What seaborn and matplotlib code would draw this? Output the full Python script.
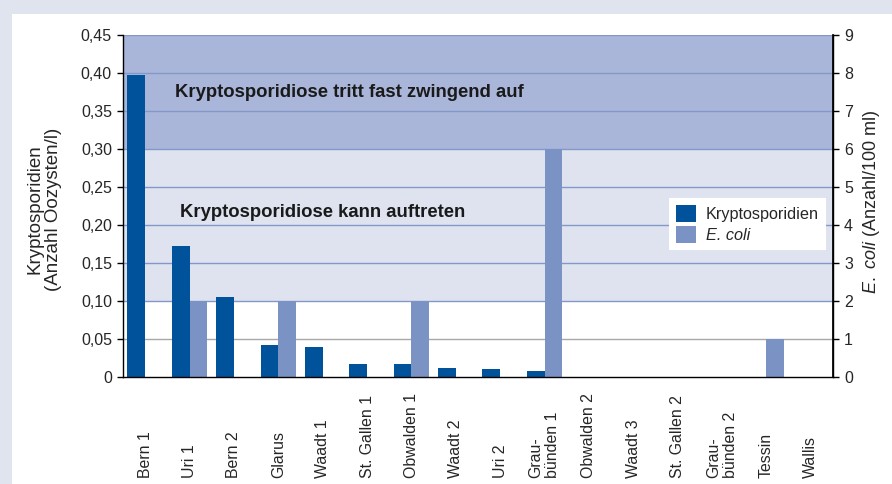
import pandas as pd
import numpy as np
import matplotlib
matplotlib.use("Agg")
import matplotlib.pyplot as plt
import matplotlib.transforms as mtransforms
from matplotlib.patches import Rectangle
import seaborn as sns

# ---------------------------------------------------------------
# Data
# ---------------------------------------------------------------
sites = ["Bern 1", "Uri 1", "Bern 2", "Glarus", "Waadt 1", "St. Gallen 1",
         "Obwalden 1", "Waadt 2", "Uri 2", "Grau-\nbünden 1", "Obwalden 2",
         "Waadt 3", "St. Gallen 2", "Grau-\nbünden 2", "Tessin", "Wallis"]
krypto = [0.397, 0.173, 0.105, 0.042, 0.039, 0.017, 0.017, 0.012, 0.010,
          0.008, 0, 0, 0, 0, 0, 0]
ecoli = [0, 2, 0, 2, 0, 0, 2, 0, 0, 6, 0, 0, 0, 0, 1, 0]

left_max, right_max = 0.45, 9
scale = left_max / right_max  # E. coli units -> left axis units

df = pd.concat([
    pd.DataFrame({"site": sites, "series": "Kryptosporidien", "value": krypto}),
    pd.DataFrame({"site": sites, "series": "E. coli",
                  "value": np.array(ecoli) * scale}),
])

dark_blue = "#00529b"
light_blue = "#7a92c4"
band_dark = "#a9b6d9"
band_light = "#dee3ef"
grid_blue = "#8398c9"

# ---------------------------------------------------------------
# Style
# ---------------------------------------------------------------
sns.set_theme(style="white")
plt.rcParams["font.family"] = ["Liberation Sans", "DejaVu Sans"]
plt.rcParams["mathtext.fontset"] = "custom"
plt.rcParams["mathtext.it"] = "Liberation Sans:italic"
plt.rcParams["mathtext.rm"] = "Liberation Sans"

fig = plt.figure(figsize=(8.92, 4.84), dpi=100, facecolor="#dfe4ef")
fig.patches.append(Rectangle((12 / 892, 0), 1, 1 - 14 / 484, transform=fig.transFigure,
                             facecolor="white", edgecolor="none", zorder=-10))
ax = fig.add_axes([123 / 892, 1 - 377 / 484, 710 / 892, 342 / 484])
ax.set_facecolor("none")

# background bands and grid lines
ax.axhspan(0.30, 0.45, color=band_dark, lw=0, zorder=0)
ax.axhspan(0.10, 0.30, color=band_light, lw=0, zorder=0)
yticks = np.round(np.arange(0, 0.451, 0.05), 2)
for t in yticks[1:]:
    ax.axhline(t, color=grid_blue if t >= 0.1 else "#a8a8a8", lw=1, zorder=0.5)

sns.barplot(data=df, x="site", y="value", hue="series",
            hue_order=["Kryptosporidien", "E. coli"],
            palette=[dark_blue, light_blue], saturation=1, width=0.8,
            linewidth=0, ax=ax, zorder=2)

ax.set_xlim(-0.5, len(sites) - 0.5)
ax.set_ylim(0, left_max)
ax.set_yticks(yticks)
ax.set_yticklabels(["0" if t == 0 else f"{t:.2f}".replace(".", ",") for t in yticks],
                   fontsize=11.5)
ax.set_xticks(np.arange(-0.5, len(sites), 1))
ax.set_xticklabels([])
ax.tick_params(axis="both", direction="out", length=4, width=1, color="black", pad=4)
ax.tick_params(axis="x", length=5)
ax.set_xlabel("")
ax.set_ylabel("")

ax.spines["top"].set_visible(False)
for side in ["left", "right", "bottom"]:
    ax.spines[side].set_color("black")
    ax.spines[side].set_linewidth(1)

# category labels, rotated, bottom aligned
trans = mtransforms.blended_transform_factory(ax.transData, fig.transFigure)
for i, s in enumerate(sites):
    ax.text(i, 6 / 484, s, rotation=90, ha="center", va="bottom",
            multialignment="left", fontsize=11.4, linespacing=1.15, transform=trans)

# band annotations
ax.text(0.67, 0.374, "Kryptosporidiose tritt fast zwingend auf", fontsize=13.3,
        fontweight="bold", va="center", color="#1a1a1a", zorder=3)
ax.text(0.78, 0.217, "Kryptosporidiose kann auftreten", fontsize=13.3,
        fontweight="bold", va="center", color="#1a1a1a", zorder=3)

# right axis
ax2 = ax.twinx()
ax2.set_ylim(0, right_max)
ax2.set_yticks(range(0, right_max + 1))
ax2.tick_params(axis="y", direction="out", length=4, width=1, color="black",
                labelsize=11.5, pad=4)
for side in ["top", "left", "bottom"]:
    ax2.spines[side].set_visible(False)
ax2.spines["right"].set_color("black")

# axis titles
fig.text(44 / 892, 1 - 209 / 484, "Kryptosporidien\n(Anzahl Oozysten/l)",
         rotation=90, ha="center", va="center", fontsize=13.5, linespacing=1.15)
fig.text(872 / 892, 1 - 202 / 484, r"$\it{E.\ coli}$ (Anzahl/100 ml)",
         rotation=90, ha="center", va="center", fontsize=13)

leg = ax.legend(loc="upper left", bbox_to_anchor=(546 / 710, 1 - 163 / 342),
                frameon=True, fancybox=False, framealpha=1, facecolor="white",
                edgecolor="none", fontsize=11.7, handlelength=1.2, handleheight=1.2,
                borderpad=0.45, labelspacing=0.25, handletextpad=0.6, borderaxespad=0)
leg.get_texts()[1].set_fontstyle("italic")
leg.set_zorder(5)

fig.savefig("out.png", dpi=100, facecolor=fig.get_facecolor())
